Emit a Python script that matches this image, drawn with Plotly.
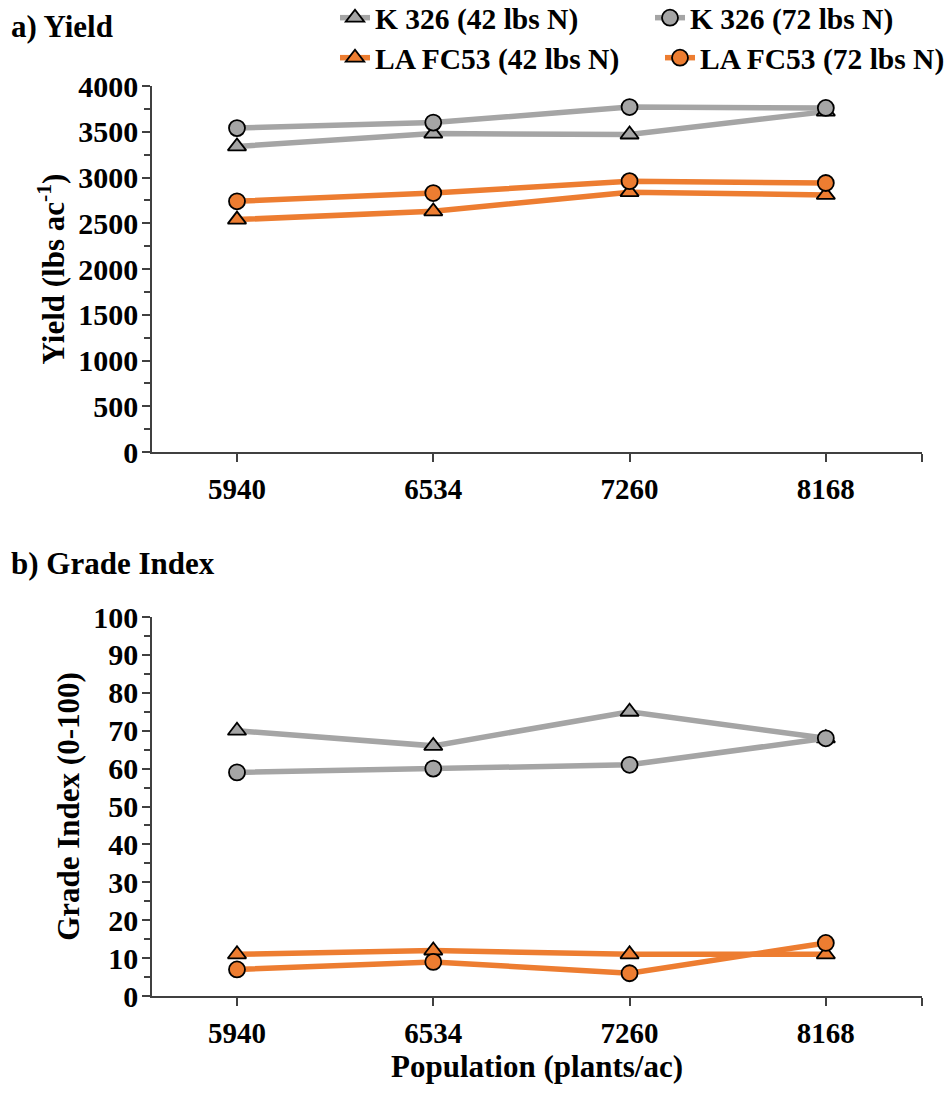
import plotly.graph_objects as go

populations = ["5940", "6534", "7260", "8168"]
series_names = ["K 326 (42 lbs N)", "K 326 (72 lbs N)", "LA FC53 (42 lbs N)", "LA FC53 (72 lbs N)"]

yield_k326_42 = [3340, 3480, 3470, 3720]
yield_k326_72 = [3540, 3600, 3770, 3760]
yield_la_42 = [2540, 2630, 2840, 2810]
yield_la_72 = [2740, 2830, 2960, 2940]

grade_k326_42 = [70, 66, 75, 68]
grade_k326_72 = [59, 60, 61, 68]
grade_la_42 = [11, 12, 11, 11]
grade_la_72 = [7, 9, 6, 14]

GRAY = "#A5A5A5"
ORANGE = "#ED7D31"
FONT = "Liberation Serif"
W, H = 946, 1097

styles = [
    (GRAY, "triangle-up", "legend"),
    (GRAY, "circle", "legend2"),
    (ORANGE, "triangle-up", "legend3"),
    (ORANGE, "circle", "legend4"),
]

xi = list(range(len(populations)))
fig = go.Figure()

for panel, data in (("1", [yield_k326_42, yield_k326_72, yield_la_42, yield_la_72]),
                    ("2", [grade_k326_42, grade_k326_72, grade_la_42, grade_la_72])):
    for name, vals, (col, sym, lg) in zip(series_names, data, styles):
        fig.add_trace(go.Scatter(
            x=xi, y=vals, name=name, mode="lines+markers",
            line=dict(color=col, width=5.5),
            marker=dict(symbol=sym, size=16, color=col, line=dict(color="black", width=1.8)),
            xaxis="x" if panel == "1" else "x2",
            yaxis="y" if panel == "1" else "y2",
            showlegend=(panel == "1"), legend=lg,
        ))

axis_line = dict(showline=True, linecolor="#404040", linewidth=1.5, showgrid=False, zeroline=False,
                 ticks="outside", tickcolor="#404040", tickwidth=1.5, ticklen=8)
xtickfont = dict(family=FONT, size=29, color="black", weight="bold")
ytickfont = dict(family=FONT, size=30, color="black", weight="bold")
titlefont = dict(family=FONT, size=31, color="black", weight="bold")
legfont = dict(family=FONT, size=29.5, color="black", weight="bold")

X_END = 3.49
xaxis_common = dict(axis_line, range=[-0.433, X_END], tickmode="array",
                    tickvals=xi, ticktext=populations,
                    tickfont=xtickfont, domain=[152/W, 922/W], ticklabelstandoff=2,
                    automargin=False,
                    minor=dict(tickmode="array", tickvals=[X_END], ticks="outside", ticklen=8,
                               tickcolor="#404040", tickwidth=1.5, showgrid=False))


def py(px):
    return 1 - px / H


def leg(xpx, ypx):
    return dict(x=xpx / W, y=py(ypx), xanchor="left", yanchor="middle", font=legfont,
                bgcolor="rgba(0,0,0,0)", borderwidth=0)


fig.update_layout(
    width=W, height=H,
    margin=dict(l=0, r=0, t=0, b=0, autoexpand=False),
    plot_bgcolor="white", paper_bgcolor="white",
    xaxis=dict(xaxis_common, anchor="y"),
    xaxis2=dict(xaxis_common, anchor="y2",
                title=dict(text="Population (plants/ac)", font=titlefont, standoff=8)),
    yaxis=dict(axis_line, range=[0, 4000], dtick=500, tickfont=ytickfont,
               domain=[py(452), py(86)], anchor="x", ticklabelstandoff=-2, automargin=False,
               minor=dict(dtick=250, ticks="outside", ticklen=6, tickcolor="#404040", tickwidth=1.5),
               title=dict(text="Yield (lbs ac<sup>-1</sup>)", font=titlefont, standoff=4)),
    yaxis2=dict(axis_line, range=[0, 100], dtick=10, tickfont=ytickfont,
                domain=[py(996), py(617)], anchor="x2", ticklabelstandoff=-2, automargin=False,
                minor=dict(dtick=5, ticks="outside", ticklen=6, tickcolor="#404040", tickwidth=1.5),
                title=dict(text="Grade Index (0-100)", font=titlefont, standoff=4)),
    legend=leg(335, 18),
    legend2=leg(650, 18),
    legend3=leg(335, 58),
    legend4=leg(660, 58),
    annotations=[
        dict(text="a) Yield", x=9/W, y=py(27), xref="paper", yref="paper",
             xanchor="left", yanchor="middle", showarrow=False, font=titlefont),
        dict(text="b) Grade Index", x=9/W, y=py(563), xref="paper", yref="paper",
             xanchor="left", yanchor="middle", showarrow=False, font=titlefont),
    ],
)

fig.write_html("out.html")
